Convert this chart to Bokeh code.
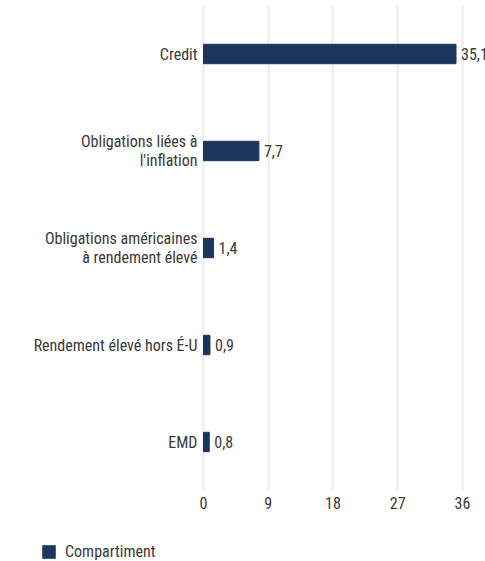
import subprocess
from bokeh.plotting import figure
from bokeh.layouts import column
from bokeh.models import ColumnDataSource, FactorRange, Range1d, FixedTicker, Legend, LegendItem
from bokeh.embed import file_html
from bokeh.resources import INLINE
from bokeh.core.properties import value

categories = ["Credit", "Obligations liées à\nl'inflation", "Obligations américaines\nà rendement élevé",
              "Rendement élevé hors É-U", "EMD"]
values = [35.1, 7.7, 1.4, 0.9, 0.8]
value_labels = ["35,1", "7,7", "1,4", "0,9", "0,8"]
x_ticks = [0, 9, 18, 27, 36]
series_name = "Compartiment"

try:
    fams = subprocess.run(["fc-list", ":", "family"], capture_output=True, text=True).stdout
except Exception:
    fams = ""
if "Roboto Condensed" in fams:
    FONT, SZ = "Roboto Condensed", 16
elif "Liberation Sans Narrow" in fams:
    FONT, SZ = "Liberation Sans Narrow", 16
else:
    FONT, SZ = "Roboto", 14
FS = f"{SZ}px"
TXT = "#3a3a3a"
BAR = "#1b365d"

src = ColumnDataSource(dict(cat=categories, val=values, lab=value_labels,
                            base=[0] * len(values)))

# frame spans the full width; category labels are drawn left of the zero line
p = figure(width=485, height=528, y_range=FactorRange(factors=categories[::-1], range_padding=0),
           x_range=Range1d(-28.22, 39.2), output_backend="svg", toolbar_location=None,
           y_axis_location=None,
           min_border_left=0, min_border_right=0, min_border_top=5, min_border_bottom=38)
p.outline_line_color = None
p.background_fill_color = "white"
p.border_fill_color = "white"

p.ygrid.grid_line_color = None
p.xgrid.grid_line_color = "#ebebeb"
p.xgrid.grid_line_width = 2
p.xaxis.ticker = FixedTicker(ticks=x_ticks)
p.xaxis.axis_line_color = None
p.xaxis.major_tick_line_color = None
p.xaxis.minor_tick_line_color = None
p.xaxis.major_label_standoff = 0
p.xaxis.major_label_text_font = FONT
p.xaxis.major_label_text_font_size = FS
p.xaxis.major_label_text_color = TXT

bars = p.hbar(y="cat", left="base", right="val", height=0.2, color=BAR, source=src)

p.text(x="val", y="cat", text="lab", x_offset=5, text_baseline="middle", text_align="left",
       text_font=value(FONT), text_font_size=FS, text_color=TXT, source=src)
p.text(x="base", y="cat", text="cat", x_offset=-6, text_baseline="middle", text_align="right",
       text_font=value(FONT), text_font_size=FS, text_color=TXT, text_line_height=0.95,
       source=src)

# legend strip below the chart (its bars have zero height, only the swatch shows)
lg = figure(width=485, height=33, x_range=Range1d(100, 101), y_range=FactorRange(factors=categories),
            output_backend="svg", toolbar_location=None, x_axis_location=None, y_axis_location=None,
            min_border=0)
lg.outline_line_color = None
lg.grid.visible = False
lg_r = lg.hbar(y="cat", left="base", right="val", height=0, fill_color=BAR, line_alpha=0,
               source=src)
legend = Legend(items=[LegendItem(label=series_name, renderers=[lg_r])], location=(40, 0),
                orientation="horizontal", glyph_width=17, glyph_height=17, label_height=17,
                label_standoff=8, label_text_font=FONT, label_text_font_size=FS,
                label_text_color=TXT, padding=0, margin=0, border_line_color=None,
                background_fill_alpha=0)
lg.add_layout(legend)

layout = column(p, lg, spacing=0)
open("out.html", "w").write(file_html(layout, INLINE))
